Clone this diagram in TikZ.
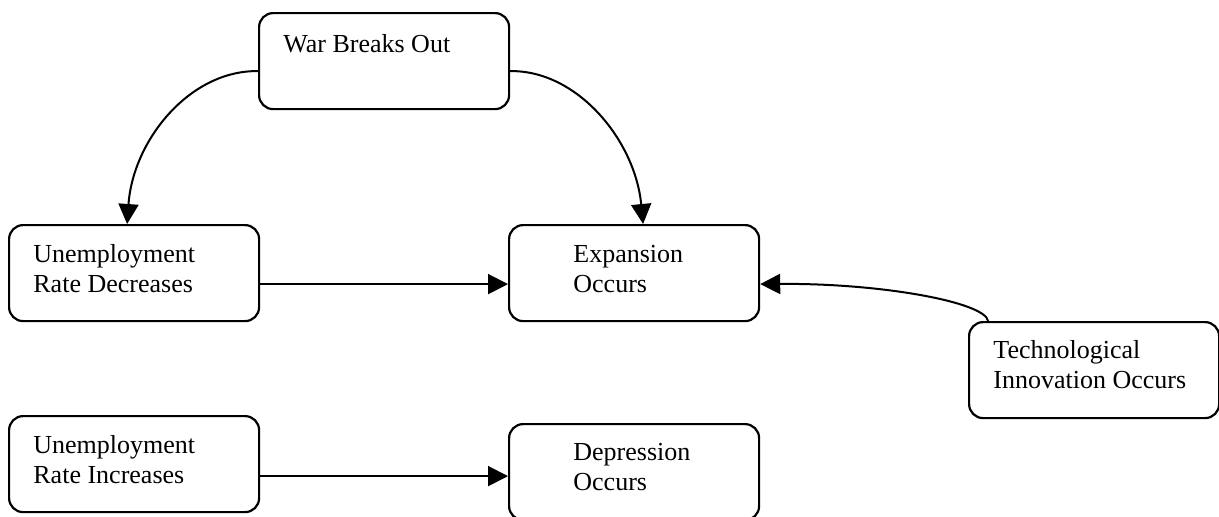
\documentclass[tikz,border=0pt]{standalone}
\usepackage{fontspec}
\setmainfont{Liberation Serif}
\usetikzlibrary{arrows.meta}
\begin{document}
\begin{tikzpicture}[x=0.5pt,y=-0.5pt,
  box/.style={draw, line width=1.1pt, rounded corners=7pt, anchor=north west,
    minimum width=125pt, minimum height=48pt, inner sep=0pt},
  lbl/.style={anchor=base west, inner sep=0pt, font=\fontsize{13}{15}\selectfont},
  conn/.style={line width=1pt, -{Triangle[length=10pt,width=10pt]}}]
\useasboundingbox (0,0) rectangle (1219,516);
% boxes
\node[box] (war)  at (258,12)  {};
\node[box] (dec)  at (8,224)   {};
\node[box] (exp)  at (508,224) {};
\node[box] (tech) at (968,321) {};
\node[box] (inc)  at (8,415)   {};
\node[box] (dep)  at (508,423) {};
% texts
\node[lbl] (twar)  at (283,52)  {War Breaks Out};
\node[lbl] (tdec)  at (33,262)  {\begin{tabular}[t]{@{}l@{}}Unemployment\\Rate Decreases\end{tabular}};
\node[lbl] (texp)  at (573,262) {\begin{tabular}[t]{@{}l@{}}Expansion\\Occurs\end{tabular}};
\node[lbl] (ttech) at (993,358) {\begin{tabular}[t]{@{}l@{}}Technological\\Innovation Occurs\end{tabular}};
\node[lbl] (tinc)  at (33,453)  {\begin{tabular}[t]{@{}l@{}}Unemployment\\Rate Increases\end{tabular}};
\node[lbl] (tdep)  at (573,460) {\begin{tabular}[t]{@{}l@{}}Depression\\Occurs\end{tabular}};
% connectors
\draw[conn] ([yshift=-5pt]war.west) .. controls (190,70) and (133,140) .. ([xshift=-3.5pt]dec.north);
\draw[conn] ([yshift=-5pt]war.east) .. controls (577,70) and (635,140) .. ([xshift=4.5pt]exp.north);
\draw[conn] ([yshift=-5.5pt]dec.east) -- ([yshift=-5.5pt]exp.west);
\draw[conn] ([xshift=-53pt]tech.north) .. controls (985,302) and (880,283) .. ([yshift=-5.5pt]exp.east);
\draw[conn] ([yshift=-6pt]inc.east) -- ([yshift=-6pt]inc.east -| dep.west);
\end{tikzpicture}
\end{document}
